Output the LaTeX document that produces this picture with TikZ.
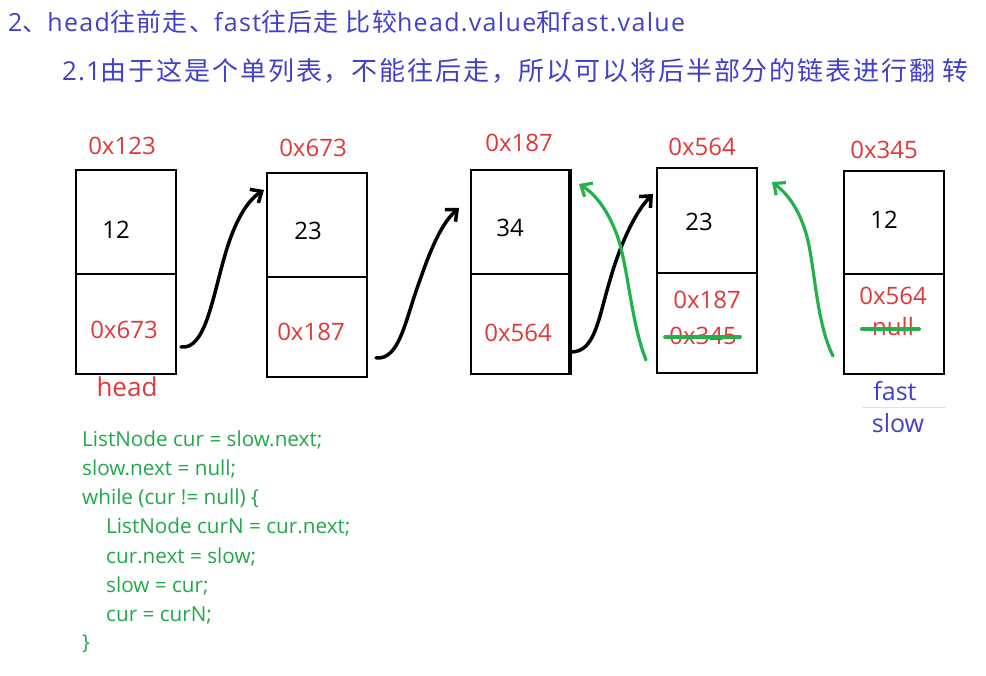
\documentclass[tikz,border=0pt]{standalone}
\usepackage{fontspec}
\setmainfont{Open Sans}
\newfontfamily\cjk{Noto Sans CJK SC}
\newfontfamily\cjkwide[LetterSpace=7.2]{Noto Sans CJK SC}
\newfontfamily\latwide[LetterSpace=4]{Open Sans}
\newfontfamily\cjkmid[LetterSpace=5.3]{Noto Sans CJK SC}
\newfontfamily\latmid[LetterSpace=5.3]{Open Sans}
\usetikzlibrary{arrows.meta,calc}
\definecolor{tblue}{RGB}{64,64,204}
\definecolor{addr}{RGB}{224,56,56}
\definecolor{cgreen}{RGB}{34,168,74}
\definecolor{agreen}{RGB}{34,177,76}
\tikzset{
  cell/.style={draw=black,line width=2pt,minimum width=100pt,minimum height=103pt,inner sep=0pt,anchor=north west},
  addrlbl/.style={text=addr,font=\fontsize{24}{26}\selectfont,inner sep=0pt},
  vallbl/.style={text=black,font=\fontsize{24}{26}\selectfont,inner sep=0pt},
  codeline/.style={text=cgreen,font=\fontsize{20.7}{23}\selectfont,inner sep=0pt,anchor=west},
  blackarrow/.style={line width=3.5pt,line cap=round,-{Straight Barb[length=9pt,width=16pt,line width=3.5pt]}},
  greenarrow/.style={draw=agreen,line width=3.2pt,line cap=round,-{Straight Barb[length=9pt,width=16pt,line width=3.2pt]}},
  strike/.style={draw=agreen,line width=4pt,line cap=round},
  title/.style={text=tblue,inner sep=0pt,anchor=west}
}
\begin{document}
\begin{tikzpicture}[x=1pt,y=-1pt]
\useasboundingbox (0,0) rectangle (986,676);
% titles
\node[title,font=\fontsize{25}{28}\selectfont] (t1) at (8,22) {\latmid 2{\cjkmid 、}head{\cjkmid 往前走、}fast{\cjkmid 往后走 比较}head.value{\cjkmid 和}fast.value};
\node[title,font=\fontsize{26}{30}\selectfont] (t2) at (62,71) {{\latwide 2.1}{\cjkwide 由于这是个单列表，不能往后走，所以可以将后半部分的链表进行翻 转}};
% boxes
\node[cell,minimum height=104pt] (v1) at (75,169) {};
\node[cell,minimum height=100pt] (n1) at (75,273) {};
\node[cell,minimum height=104pt] (v2) at (266,172) {};
\node[cell,minimum height=100pt] (n2) at (266,276) {};
\node[cell,minimum width=98pt,minimum height=104pt] (v3) at (470,169) {};
\node[cell,minimum width=98pt,minimum height=100pt] (n3) at (470,273) {};
\node[cell,minimum height=105pt] (v4) at (656,167) {};
\node[cell,minimum height=100pt] (n4) at (656,272) {};
\node[cell,minimum height=103pt] (v5) at (843,170) {};
\node[cell,minimum height=100pt] (n5) at (843,273) {};
\draw[line width=3.5pt] (v3.north east) -- (n3.south east);
% address labels
\node[addrlbl] (a1) at (122,146) {0x123};
\node[addrlbl] (a2) at (313,148) {0x673};
\node[addrlbl] (a3) at (519,143) {0x187};
\node[addrlbl] (a4) at (702,147) {0x564};
\node[addrlbl] (a5) at (884,150) {0x345};
% values
\node[vallbl] (x1) at (116,230) {12};
\node[vallbl] (x2) at (308,231) {23};
\node[vallbl] (x3) at (510,228) {34};
\node[vallbl] (x4) at (699,222) {23};
\node[vallbl] (x5) at (884,220) {12};
% next pointers
\node[addrlbl] (p1) at (124,330) {0x673};
\node[addrlbl] (p2) at (311,332) {0x187};
\node[addrlbl] (p3) at (518,333) {0x564};
\node[addrlbl] (p4) at (707,300) {0x187};
\node[addrlbl] (p4o) at (703,336) {0x345};
\node[addrlbl] (p5) at (893,296) {0x564};
\node[addrlbl] (p5o) at (893,327) {null};
\draw[strike] ($(p4o.west)+(-4,1)$) -- ($(p4o.east)+(3,1)$);
\draw[strike] ($(p5o.west)+(-10,2)$) -- ($(p5o.east)+(5,2)$);
% pointer labels
\node[text=addr,font=\fontsize{26}{28}\selectfont,inner sep=0pt] (head) at (127,387) {head};
\node[text=tblue,font=\fontsize{25}{28}\selectfont,inner sep=0pt] (fast) at (895,391) {fast};
\node[text=tblue,font=\fontsize{25}{28}\selectfont,inner sep=0pt] (slow) at (898,423) {slow};
\draw[black!12,line width=1pt] (862,407.5) -- (946,407.5);
% connectors
\coordinate (s1) at (181,347); \coordinate (e1) at (264,190);
\coordinate (s2) at (376,358); \coordinate (e2) at (459,208);
\coordinate (s3) at (571,352); \coordinate (e3) at (653,194);
\coordinate (g1s) at (646,360); \coordinate (g1e) at (579,184);
\coordinate (g2s) at (833,356); \coordinate (g2e) at (772,182);
\draw[blackarrow] (s1) .. controls (205,350) and (212,300) .. (225,255) .. controls (235,220) and (248,200) .. (e1);
\draw[blackarrow] (s2) .. controls (400,360) and (405,320) .. (420,280) .. controls (432,245) and (443,222) .. (e2);
\draw[blackarrow] (s3) .. controls (595,352) and (598,320) .. (610,280) .. controls (620,245) and (635,212) .. (e3);
\draw[greenarrow] (g1s) .. controls (630,320) and (628,260) .. (615,230) .. controls (605,205) and (592,192) .. (g1e);
\draw[greenarrow] (g2s) .. controls (815,320) and (815,260) .. (805,230) .. controls (797,205) and (785,192) .. (g2e);
% code
\node[codeline] (c1) at (82,440) {ListNode cur = slow.next;};
\node[codeline] (c2) at (82,469) {slow.next = null;};
\node[codeline] (c3) at (82,498) {while (cur != null) \{};
\node[codeline] (c4) at (106,527) {ListNode curN = cur.next;};
\node[codeline] (c5) at (106,557) {cur.next = slow;};
\node[codeline] (c6) at (106,586) {slow = cur;};
\node[codeline] (c7) at (106,615) {cur = curN;};
\node[codeline] (c8) at (82,644) {\}};
\end{tikzpicture}
\end{document}
